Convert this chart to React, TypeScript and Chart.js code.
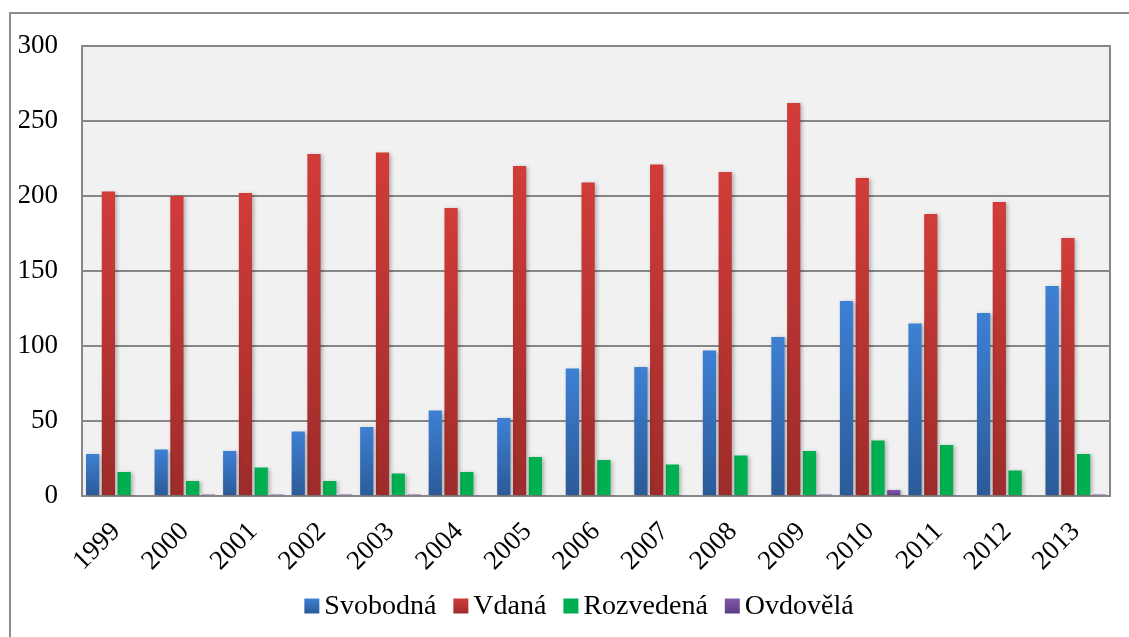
import React, { useEffect, useRef } from "react";
import { Chart, registerables } from "chart.js";

Chart.register(...registerables);

const years = ["1999", "2000", "2001", "2002", "2003", "2004", "2005", "2006", "2007", "2008", "2009", "2010", "2011", "2012", "2013"];
const svobodna = [28, 31, 30, 43, 46, 57, 52, 85, 86, 97, 106, 130, 115, 122, 140];
const vdana = [203, 200, 202, 228, 229, 192, 220, 209, 221, 216, 262, 212, 188, 196, 172];
const rozvedena = [16, 10, 19, 10, 15, 16, 26, 24, 21, 27, 30, 37, 34, 17, 28];
const ovdovela = [0, 1, 1, 1, 1, 0, 0, 0, 0, 0, 1, 4, 0, 0, 1];
const yTicks = [0, 50, 100, 150, 200, 250, 300];
const seriesNames = ["Svobodná", "Vdaná", "Rozvedená", "Ovdovělá"];

const FONT = '"Liberation Serif", "Times New Roman", serif';

function grad(top: string, bottom: string) {
  return (c: any) => {
    const chart = c.chart;
    if (!chart.chartArea || c.type !== "data") return top;
    const ys = chart.scales.y;
    const y0 = ys.getPixelForValue(0);
    const y1 = ys.getPixelForValue(c.raw);
    if (Math.abs(y0 - y1) < 1) return top;
    const g = chart.ctx.createLinearGradient(0, y1, 0, y0);
    g.addColorStop(0, top);
    g.addColorStop(1, bottom);
    return g;
  };
}

const legendColors = [
  ["#3e80d4", "#2b5a97"],
  ["#d13c39", "#9d2c2a"],
  ["#00b050", "#00b050"],
  ["#8159ab", "#5d3c83"],
];

const decor = {
  id: "decor",
  beforeDraw(chart: any) {
    const { ctx, chartArea: a } = chart;
    ctx.save();
    ctx.fillStyle = "#ffffff";
    ctx.fillRect(0, 0, chart.width, chart.height);
    ctx.strokeStyle = "#8c8c8c";
    ctx.lineWidth = 2;
    ctx.beginPath();
    ctx.moveTo(10, chart.height);
    ctx.lineTo(10, 13);
    ctx.lineTo(chart.width, 13);
    ctx.stroke();
    ctx.fillStyle = "#f1f1f1";
    ctx.fillRect(a.left, a.top, a.right - a.left, a.bottom - a.top);
    ctx.restore();
  },
  beforeDatasetsDraw(chart: any) {
    const { ctx, chartArea: a } = chart;
    ctx.save();
    ctx.strokeStyle = "#868686";
    ctx.lineWidth = 2;
    ctx.strokeRect(a.left, a.top, a.right - a.left, a.bottom - a.top);
    ctx.restore();
    ctx.save();
    ctx.shadowColor = "rgba(0,0,0,0.28)";
    ctx.shadowBlur = 4;
    ctx.shadowOffsetX = 2;
    ctx.shadowOffsetY = 1;
  },
  afterDatasetsDraw(chart: any) {
    chart.ctx.restore();
  },
  afterDraw(chart: any) {
    const ctx = chart.ctx;
    ctx.save();
    ctx.font = `28px ${FONT}`;
    const box = 15, gap = 5, spacing = 17;
    const widths = seriesNames.map((n) => box + gap + ctx.measureText(n).width);
    const total = widths.reduce((s, w) => s + w, 0) + spacing * (seriesNames.length - 1);
    let x = 579 - total / 2;
    const cy = 606;
    seriesNames.forEach((n, i) => {
      const g = ctx.createLinearGradient(0, cy - box / 2, 0, cy + box / 2);
      g.addColorStop(0, legendColors[i][0]);
      g.addColorStop(1, legendColors[i][1]);
      ctx.fillStyle = g;
      ctx.fillRect(x, cy - box / 2, box, box);
      ctx.fillStyle = "#000";
      ctx.textBaseline = "middle";
      ctx.textAlign = "left";
      ctx.fillText(n, x + box + gap, cy + 1);
      x += widths[i] + spacing;
    });
    ctx.restore();
  },
};

export default function App() {
  const ref = useRef<HTMLCanvasElement>(null);
  useEffect(() => {
    if (!ref.current) return;
    const chart = new Chart(ref.current, {
      type: "bar",
      data: {
        labels: years,
        datasets: [
          { label: seriesNames[0], data: svobodna, backgroundColor: grad("#3e80d4", "#2b5a97") },
          { label: seriesNames[1], data: vdana, backgroundColor: grad("#d13c39", "#9d2c2a") },
          { label: seriesNames[2], data: rozvedena, backgroundColor: "#00b050" },
          { label: seriesNames[3], data: ovdovela, backgroundColor: grad("#8159ab", "#5d3c83") },
        ],
      },
      options: {
        responsive: false,
        animation: false,
        layout: { padding: { left: 19, right: 19, top: 46, bottom: 52 } },
        datasets: { bar: { categoryPercentage: 0.92, barPercentage: 0.84 } },
        plugins: {
          tooltip: { enabled: false },
          legend: { display: false },
        },
        scales: {
          x: {
            grid: { display: false },
            border: { display: false },
            ticks: {
              font: { family: FONT, size: 27 },
              color: "#000",
              minRotation: 45,
              maxRotation: 45,
              autoSkip: false,
              padding: 12,
            },
            afterFit(s: any) {
              s.height = 89;
              s.paddingLeft = 0;
              s.paddingRight = 0;
            },
          },
          y: {
            min: 0,
            max: 300,
            afterBuildTicks(s: any) {
              s.ticks = yTicks.map((v) => ({ value: v }));
            },
            afterFit(s: any) {
              s.width = 63;
            },
            grid: { color: "#868686", lineWidth: 2, drawTicks: false },
            border: { display: false },
            ticks: { font: { family: FONT, size: 27 }, color: "#000", padding: 24 },
          },
        },
      },
      plugins: [decor],
    });
    return () => chart.destroy();
  }, []);
  return (
    <div style={{ position: "fixed", left: 0, top: 0, width: 1129, height: 637, background: "#fff" }}>
      <canvas ref={ref} width={1129} height={637} />
    </div>
  );
}
